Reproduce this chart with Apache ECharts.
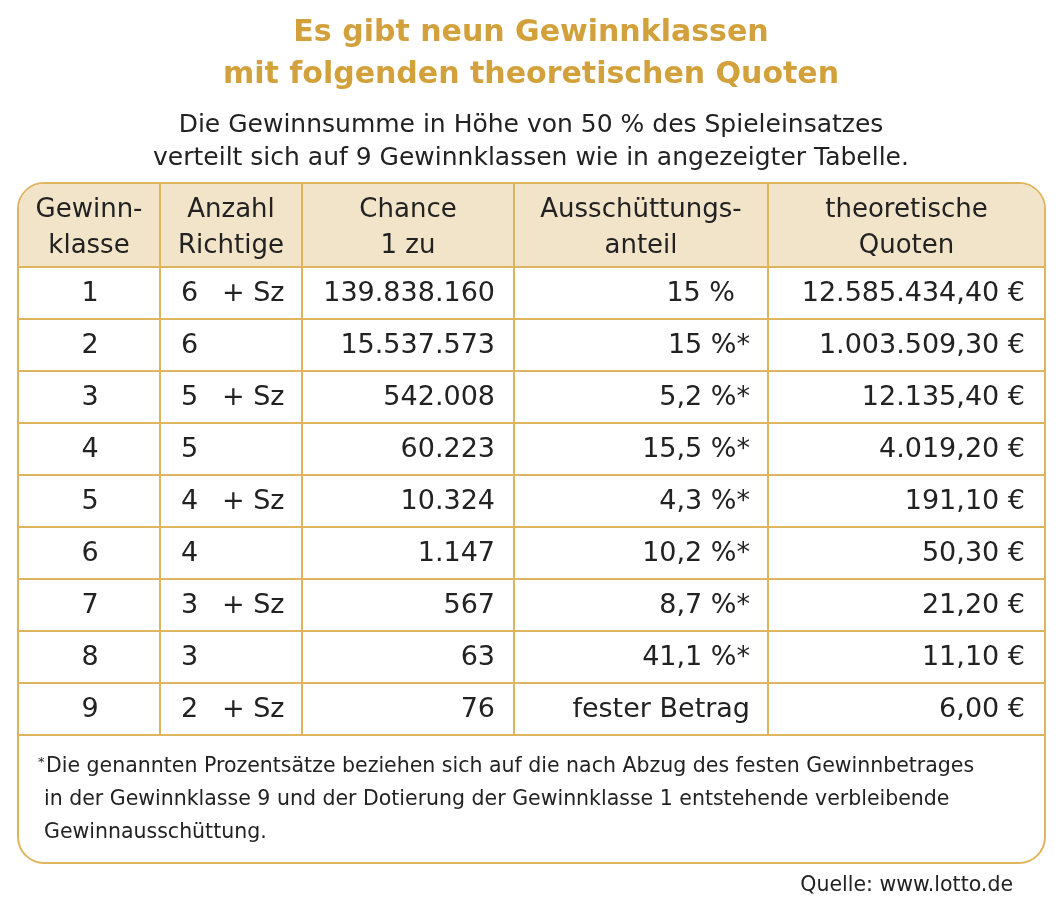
<!DOCTYPE html>
<html><head><meta charset="utf-8">
<script src="https://cdn.jsdelivr.net/npm/echarts@6/dist/echarts.min.js"></script>
<style>html,body{margin:0;padding:0;background:#fff}#c{width:1063px;height:908px}</style>
</head><body><div id="c"></div>
<script>
const titleLines = ['Es gibt neun Gewinnklassen', 'mit folgenden theoretischen Quoten'];
const subtitleLines = ['Die Gewinnsumme in Höhe von 50 % des Spieleinsatzes', 'verteilt sich auf 9 Gewinnklassen wie in angezeigter Tabelle.'];
const headers = [['Gewinn-','klasse'],['Anzahl','Richtige'],['Chance','1 zu'],['Ausschüttungs-','anteil'],['theoretische','Quoten']];
const klasse = ['1','2','3','4','5','6','7','8','9'];
const richtige = ['6','6','5','5','4','4','3','3','2'];
const superzahl = [true,false,true,false,true,false,true,false,true];
const chance = ['139.838.160','15.537.573','542.008','60.223','10.324','1.147','567','63','76'];
const anteil = ['15 %','15 %*','5,2 %*','15,5 %*','4,3 %*','10,2 %*','8,7 %*','41,1 %*','fester Betrag'];
const quoten = ['12.585.434,40 €','1.003.509,30 €','12.135,40 €','4.019,20 €','191,10 €','50,30 €','21,20 €','11,10 €','6,00 €'];
const footnote = ['Die genannten Prozentsätze beziehen sich auf die nach Abzug des festen Gewinnbetrages','in der Gewinnklasse 9 und der Dotierung der Gewinnklasse 1 entstehende verbleibende','Gewinnausschüttung.'];
const source = 'Quelle: www.lotto.de';

const GOLD='#d2a13c', LINE='#dfb45e', HEAD='#f2e4c9', TXT='#222', FONT="'DejaVu Sans'";
const colX=[18,160,302,514,768,1045];
const tTop=183, headH=84, rowH=52, tBottom=863;
const rowTop = i => tTop+headH+i*rowH;

const chart=echarts.init(document.getElementById('c'));
const cells=[];
klasse.forEach((k,i)=>{for(let c=0;c<5;c++)cells.push([c,i]);});

function txt(x,y,s,align,size,color,weight){
  return {type:'text',x:x,y:y,style:{text:s,fill:color||TXT,font:(weight||'normal')+' '+(size||28)+'px '+FONT,textAlign:align||'left',textVerticalAlign:'middle'}};
}
const graphics=[];
titleLines.forEach((t,i)=>graphics.push(txt(531,33+i*42,t,'center',30,GOLD,'bold')));
subtitleLines.forEach((t,i)=>graphics.push(txt(531,125+i*33,t,'center',25,TXT)));
graphics.push({type:'rect',shape:{x:18,y:tTop,width:1027,height:tBottom-tTop,r:26},style:{fill:'#fff',stroke:LINE,lineWidth:2},z:-1});
graphics.push({type:'rect',shape:{x:19,y:tTop+1,width:1025,height:headH-1,r:[25,25,0,0]},style:{fill:HEAD},z:0});
for(let i=0;i<=9;i++)graphics.push({type:'line',shape:{x1:18,y1:rowTop(i),x2:1045,y2:rowTop(i)},style:{stroke:LINE,lineWidth:2},z:2});
for(let c=1;c<5;c++)graphics.push({type:'line',shape:{x1:colX[c],y1:tTop,x2:colX[c],y2:rowTop(9)},style:{stroke:LINE,lineWidth:2},z:2});
headers.forEach((h,c)=>h.forEach((l,j)=>graphics.push(Object.assign(txt((colX[c]+colX[c+1])/2,210+j*36,l,'center',26),{z:3}))));
graphics.push(txt(38,763,'*','left',13));
footnote.forEach((l,i)=>graphics.push(txt(i===0?46:44,767+i*33,l,'left',20.5)));
graphics.push(txt(1013,886,source,'right',20.5));

chart.setOption({
  animation:false,
  grid:{left:0,top:0,width:1063,height:908},
  xAxis:{type:'value',min:0,max:1063,show:false},
  yAxis:{type:'value',min:0,max:908,inverse:true,show:false},
  graphic:graphics,
  series:[{type:'custom',data:cells,z:5,renderItem:function(params,api){
    const c=api.value(0), r=api.value(1);
    const cy=rowTop(r)+rowH/2+1;
    const font='normal 27px '+FONT;
    const mk=(x,s,align)=>{const p=api.coord([x,cy]);return {type:'text',x:p[0],y:p[1],style:{text:s,fill:TXT,font:font,textAlign:align,textVerticalAlign:'middle'}};};
    if(c===0)return mk(90,klasse[r],'center');
    if(c===1){const ch=[mk(181,richtige[r],'left')];if(superzahl[r])ch.push(mk(222,'+ Sz','left'));return {type:'group',children:ch};}
    if(c===2)return mk(495,chance[r],'right');
    if(c===3){const s=anteil[r];return mk(s.endsWith('*')||s.startsWith('f')?750:735,s,'right');}
    return mk(1025,quoten[r],'right');
  }}]
});
</script></body></html>
